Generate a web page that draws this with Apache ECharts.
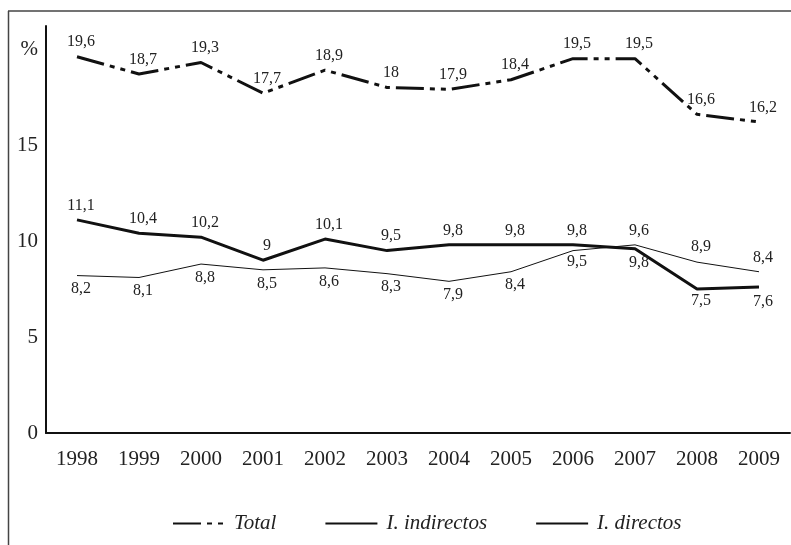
<!DOCTYPE html>
<html>
<head>
<meta charset="utf-8">
<script src="https://cdn.jsdelivr.net/npm/echarts@6/dist/echarts.min.js"></script>
<style>
html,body{margin:0;padding:0;background:#fff;}
#c{width:791px;height:545px;}
</style>
</head>
<body>
<div id="c"></div>
<script>
var years = ['1998','1999','2000','2001','2002','2003','2004','2005','2006','2007','2008','2009'];
var total = [19.6, 18.7, 19.3, 17.7, 18.9, 18, 17.9, 18.4, 19.5, 19.5, 16.6, 16.2];
var indirectos = [11.1, 10.4, 10.2, 9, 10.1, 9.5, 9.8, 9.8, 9.8, 9.6, 7.5, 7.6];
var directos = [8.2, 8.1, 8.8, 8.5, 8.6, 8.3, 7.9, 8.4, 9.5, 9.8, 8.9, 8.4];
var seriesNames = ['Total', 'I. indirectos', 'I. directos'];

var FONT = '"Liberation Serif", "DejaVu Serif", serif';
var TXT = '#222';

function fmt(p){ return String(p.value).replace('.', ','); }

// label placement overrides (style only)
var indOverrides = {9: {position:'top', distance: 9}, 10: {position:'bottom', distance: 3}, 11: {position:'bottom', distance: 6}};
var dirOverrides = {8: {position:'bottom', distance: 3}, 9: {position:'bottom', distance: 9}, 10: {position:'top', distance: 7}, 11: {position:'top', distance: 5}};

function build(vals, overrides){
  return vals.map(function(v, i){
    if (overrides && overrides[i]) return {value: v, label: overrides[i]};
    return v;
  });
}

var labelBase = {show: true, fontFamily: FONT, fontSize: 16, color: TXT, formatter: fmt, offset: [4, 0]};
var symStyle = {color: 'rgba(0,0,0,0)', borderWidth: 0};

var chart = echarts.init(document.getElementById('c'), null, {renderer: 'canvas'});
chart.setOption({
  animation: false,
  backgroundColor: '#fff',
  grid: {left: 46, right: 1, top: 26, bottom: 112, containLabel: false},
  xAxis: {
    type: 'category',
    data: years,
    boundaryGap: true,
    axisLine: {lineStyle: {color: '#111', width: 2}},
    axisTick: {show: false},
    axisLabel: {fontFamily: FONT, fontSize: 21, color: TXT, margin: 16}
  },
  yAxis: {
    type: 'value',
    min: 0, max: 21.2, interval: 5,
    splitLine: {show: false},
    axisLine: {show: true, lineStyle: {color: '#111', width: 2}},
    axisTick: {show: false},
    axisLabel: {
      fontFamily: FONT, fontSize: 21, color: TXT, margin: 8,
      formatter: function(v){ if (v === 20) return '%'; if (v % 5 === 0) return String(v); return ''; }
    }
  },
  legend: {
    left: 167, top: 508,
    itemWidth: 52, itemHeight: 14, itemGap: 48,
    textStyle: {fontFamily: FONT, fontSize: 21, fontStyle: 'italic', color: TXT, padding: [0,0,0,4]},
    data: seriesNames
  },
  series: [
    {
      name: seriesNames[0], type: 'line', data: build(total),
      symbol: 'circle', symbolSize: 1, showSymbol: true,
      lineStyle: {color: '#111', width: 3, type: [28, 6, 5, 6, 5, 6]},
      itemStyle: symStyle,
      label: Object.assign({}, labelBase, {position: 'top', distance: 6})
    },
    {
      name: seriesNames[1], type: 'line', data: build(indirectos, indOverrides),
      symbol: 'circle', symbolSize: 1, showSymbol: true,
      lineStyle: {color: '#111', width: 3},
      itemStyle: symStyle,
      label: Object.assign({}, labelBase, {position: 'top', distance: 6})
    },
    {
      name: seriesNames[2], type: 'line', data: build(directos, dirOverrides),
      symbol: 'circle', symbolSize: 1, showSymbol: true,
      lineStyle: {color: '#111', width: 1},
      itemStyle: symStyle,
      label: Object.assign({}, labelBase, {position: 'bottom', distance: 5})
    }
  ],
  graphic: [
    {type: 'line', shape: {x1: 8.5, y1: 11, x2: 8.5, y2: 545}, style: {stroke: '#444', lineWidth: 1.5}, silent: true},
    {type: 'line', shape: {x1: 8, y1: 11, x2: 791, y2: 11}, style: {stroke: '#444', lineWidth: 1.5}, silent: true}
  ]
});
</script>
</body>
</html>
